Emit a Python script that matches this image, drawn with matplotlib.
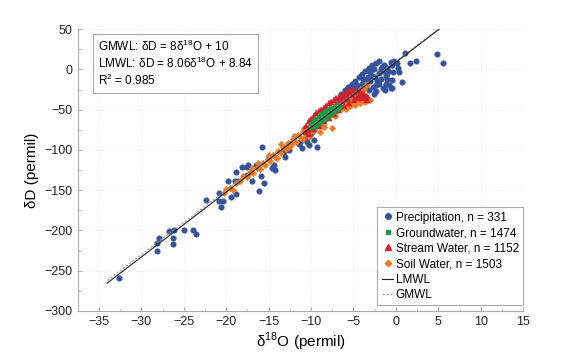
import matplotlib
matplotlib.use('Agg')
from matplotlib import pyplot as plt
from matplotlib.ticker import MultipleLocator
from matplotlib.lines import Line2D
import numpy as np

plt.rcParams['font.family'] = ['Liberation Sans', 'DejaVu Sans']
plt.rcParams['mathtext.fontset'] = 'custom'
plt.rcParams['mathtext.rm'] = 'Liberation Sans'

# precipitation (d18O, dD)
precip_x = [-32.6, -28.2, -28.1, -27.9, -26.8, -26.2, -26.3, -26.3, -25.0, -23.9, -23.6,
            -22.4, -20.8, -20.8, -20.6, -20.4, -19.4, -18.9, -19.0, -18.9, -18.6, -18.1,
            -17.6, -17.5, -17.0, -16.5, -15.9, -16.1, -15.6, -15.8, -15.0, -14.6, -14.4,
            -13.2, -12.6, -12.5, -11.4, -10.7, -19.8, -17.4, -14.3, -13.1, -10.1, -9.9,
            -10.5, -11.1, -10.2, -9.3, -9.7, -11.3,
            1.1, 4.8, 5.6, 1.7, 2.4, 0.1, 0.7, -0.5, -1.5, -2.4, -0.4,
            -3.5, -3.0, -2.5, -2.0, -1.5, -1.0, -0.5, -1.2, -2.8, -3.8, -4.2, -4.5, -5.0,
            -5.5, -6.0, -3.2, -2.0, -1.0, -0.3, 0.2, -1.8, -2.2, -3.5, -4.0, -4.8, -5.5,
            -6.2, -6.8, -2.6, -3.5, -1.2, -0.8, -3.0, -2.6, -1.4, -0.6, -2.7, -1.3, -0.6,
            -6.5, -6.0, -5.6, -5.2, -4.8, -4.4, -4.0, -3.6, -3.2, -2.8, -2.4, -2.0, -1.6,
            -1.0, -4.6, -3.9, -3.3, -2.3, -1.7, -0.9, -0.2, 0.4, -5.8, -5.2]
precip_y = [-259, -225, -215, -209, -201, -199, -210, -217, -199, -200, -204,
            -162, -153, -164, -171, -163, -158, -155, -139, -128, -138, -121,
            -131, -121, -138, -119, -132, -151, -141, -96, -109, -122, -119,
            -103, -100, -93, -93, -86, -139, -119, -125, -109, -82, -78,
            -90, -98, -94, -96, -88, -90,
            20, 19, 8, 8, 10, 8, -16, -23, -23, -27, -13,
            -20, -15, -10, -5, -2, 2, 5, -8, -8, -22, -25, -30, -33,
            -36, -40, -25, -18, -12, -3, 2, 0, -14, -12, -18, -22, -28,
            -34, -42, -30, -34, -18, -20, -3, 1, 6, 9, -22, -26, -23,
            -30, -25, -22, -18, -14, -10, -6, -2, 2, 5, 8, 10, 3,
            -5, -20, -12, -9, -20, -12, -2, 10, -3, -30, -26]

# groundwater
ground_x = [-10.0, -10.0, -9.7, -9.7, -9.7, -9.4, -9.4, -9.4, -9.1, -9.1, -9.1,
            -8.8, -8.8, -8.8, -8.5, -8.5, -8.5, -8.2, -8.2, -8.2, -7.9, -7.9, -7.9,
            -7.6, -7.6, -7.6, -7.3, -7.3, -7.0, -7.0, -6.7, -6.7]
ground_y = [-72, -68, -70, -66, -64, -68, -64, -61, -66, -62, -59,
            -63, -60, -56, -61, -58, -54, -59, -55, -52, -56, -53, -50,
            -54, -51, -48, -52, -49, -49, -46, -47, -44]

# stream water
stream_x = [-10.6, -10.6, -10.3, -10.3, -10.3, -10.0, -10.0, -9.7, -9.7, -9.7,
            -9.4, -9.4, -9.1, -9.1, -9.1, -8.8, -8.8, -8.5, -8.5, -8.5, -8.2, -8.2,
            -7.9, -7.9, -7.9, -7.6, -7.6, -7.3, -7.3, -7.3, -7.0, -7.0, -6.7, -6.7, -6.7,
            -6.4, -6.4, -6.1, -6.1, -6.1, -5.8, -5.8, -5.5, -5.5, -5.5, -5.2, -5.2,
            -4.9, -4.9, -4.6, -4.6, -4.3, -4.3, -4.0, -4.0, -3.7, -3.7, -3.4, -3.4]
stream_y = [-78, -70, -74, -64, -80, -72, -62, -68, -58, -74,
            -66, -54, -62, -52, -70, -60, -50, -58, -48, -64, -54, -46,
            -52, -42, -60, -50, -40, -47, -38, -56, -44, -36, -42, -34, -51,
            -39, -32, -37, -30, -46, -35, -28, -32, -26, -42, -30, -25,
            -28, -38, -26, -35, -25, -33, -31, -36, -30, -35, -33, -38]

# soil water
soil_x = [-20.3, -20.0, -19.6, -19.2, -18.8, -18.4, -18.0, -17.6, -17.2, -16.8, -16.4,
          -16.0, -15.7, -15.4, -15.1, -14.8, -14.5, -14.2, -13.9, -13.6, -13.3, -13.0,
          -12.7, -12.4, -12.1, -11.8, -11.5, -11.2, -10.9, -10.6, -10.3, -10.0, -9.7,
          -9.4, -9.1, -8.8, -8.5, -8.2, -7.9, -7.6, -7.3, -7.0, -6.7, -6.4, -6.1, -5.8,
          -5.5, -5.2, -4.9, -4.6, -4.3, -4.0, -3.7, -3.5,
          -17.0, -16.2, -15.0, -13.5, -12.0, -10.8, -9.5, -8.0, -6.9, -5.6,
          -14.0, -12.6, -11.0, -9.8, -8.6, -7.2, -5.9,
          -8.9, -8.5, -10.2, -7.5, -5.4, -4.8, -4.2, -3.6, -3.1, -4.5]
soil_y = [-153, -148, -147, -150, -141, -139, -133, -134, -127, -129, -122,
          -124, -116, -119, -111, -114, -106, -109, -101, -104, -96, -99,
          -92, -94, -86, -90, -81, -85, -77, -80, -72, -76, -67,
          -71, -63, -66, -58, -62, -54, -57, -49, -53, -45, -48, -40, -44,
          -36, -39, -31, -35, -27, -30, -24, -20,
          -122, -116, -106, -93, -83, -73, -64, -52, -43, -33,
          -110, -97, -86, -77, -69, -58, -49,
          -78, -72, -84, -73, -45, -44, -42, -40, -38, -38]

lmwl_slope, lmwl_int = 8.06, 8.84
gmwl_slope, gmwl_int = 8.0, 10.0
line_x = [-34.0, 5.1]

blue = '#34539b'
green = '#1c9a45'
red = '#d4202c'
orange = '#ec7a24'


def main():
    fig = plt.figure(figsize=(5.8, 3.55), dpi=100)
    ax = fig.add_axes([0.134, 0.124, 0.768, 0.794])

    ax.plot(precip_x, precip_y, 'o', color=blue, markersize=4.0, mec=blue, mew=0.3,
            zorder=3)
    ax.plot(soil_x, soil_y, 'D', color=orange, markersize=3.4, mec=orange, mew=0.3,
            zorder=4)
    ax.plot(stream_x, stream_y, '^', color=red, markersize=4.4, mec=red, mew=0.3,
            zorder=5)
    ax.plot(ground_x, ground_y, 's', color=green, markersize=3.6, mec=green, mew=0.3,
            zorder=6)

    lx = np.array(line_x)
    ax.plot(lx, gmwl_slope * lx + gmwl_int, linestyle=(0, (2, 1.5)), color='#999999',
            linewidth=0.8, zorder=7)
    ax.plot(lx, lmwl_slope * lx + lmwl_int, '-', color='#222222', linewidth=0.8, zorder=8)

    ax.set_xlim(-37.5, 15)
    ax.set_ylim(-300, 50)
    ax.xaxis.set_major_locator(MultipleLocator(5))
    ax.xaxis.set_minor_locator(MultipleLocator(2.5))
    ax.yaxis.set_major_locator(MultipleLocator(50))
    ax.yaxis.set_minor_locator(MultipleLocator(25))

    for s in ['top', 'right']:
        ax.spines[s].set_visible(False)
    for s in ['left', 'bottom']:
        ax.spines[s].set_color('#aaaaaa')
        ax.spines[s].set_linewidth(0.8)
    ax.tick_params(which='major', direction='in', length=3, color='#aaaaaa',
                   labelsize=9, labelcolor='#222222')
    ax.tick_params(which='minor', direction='in', length=1.8, color='#aaaaaa')
    ax.grid(True, which='major', linestyle=(0, (1, 2)), color='#e2e2e2', linewidth=0.6)
    ax.set_axisbelow(True)

    ax.set_xlabel(r'δ$^{\mathrm{18}}$O (permil)', fontsize=11, labelpad=2)
    ax.set_ylabel('δD (permil)', fontsize=11, labelpad=4)

    ax.text(0.045, 0.965,
            'GMWL: δD = 8δ$^{\\mathrm{18}}$O + 10\n'
            'LMWL: δD = 8.06δ$^{\\mathrm{18}}$O + 8.84\n'
            'R$^{\\mathrm{2}}$ = 0.985',
            transform=ax.transAxes, fontsize=8.5, va='top', ha='left', linespacing=1.15,
            bbox=dict(boxstyle='square,pad=0.4', fc='white', ec='#aaaaaa', lw=0.8),
            zorder=10)

    handles = [
        Line2D([], [], marker='o', color=blue, linestyle='', markersize=4),
        Line2D([], [], marker='s', color=green, linestyle='', markersize=3.5),
        Line2D([], [], marker='^', color=red, linestyle='', markersize=4),
        Line2D([], [], marker='D', color=orange, linestyle='', markersize=3.3),
        Line2D([], [], color='#222222', linewidth=0.8),
        Line2D([], [], color='#999999', linewidth=0.8, linestyle=(0, (2, 1.5))),
    ]
    labels = ['Precipitation, n = 331', 'Groundwater, n = 1474', 'Stream Water, n = 1152',
              'Soil Water, n = 1503', 'LMWL', 'GMWL']
    leg = ax.legend(handles, labels, loc='lower right', bbox_to_anchor=(1.0, 0.02),
                    fontsize=8.5, handlelength=1.0, handletextpad=0.2, borderpad=0.35,
                    labelspacing=0.3, fancybox=False, framealpha=1, borderaxespad=0.0)
    leg.get_frame().set_edgecolor('#aaaaaa')
    leg.get_frame().set_linewidth(0.8)

    fig.savefig('out.png', dpi=100)


if __name__ == '__main__':
    main()
